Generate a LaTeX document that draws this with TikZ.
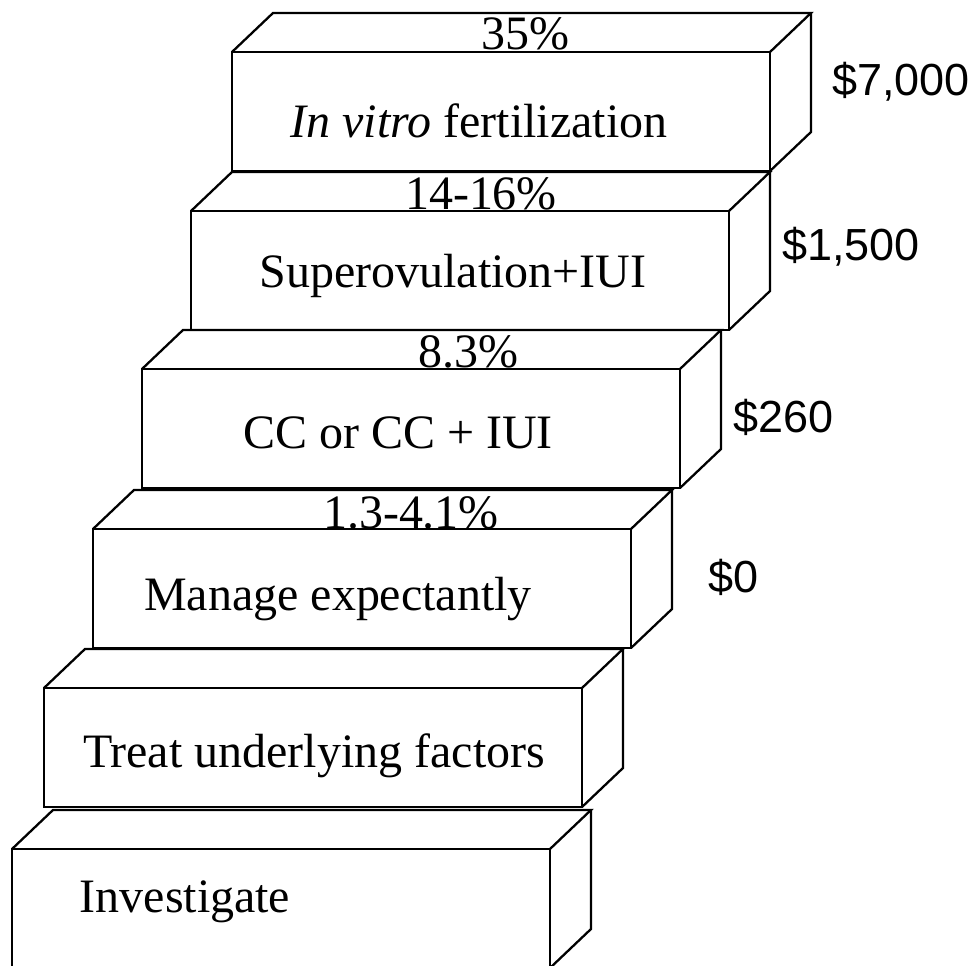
\documentclass[tikz,border=0pt]{standalone}
\usepackage{fontspec}
\setmainfont{Liberation Serif}
\newfontfamily\costfont{Liberation Sans}

\begin{document}
\begin{tikzpicture}[
    stepline/.style={line width=1.3pt},
    steptext/.style={anchor=base, inner sep=0pt, font=\fontsize{27.3}{32}\selectfont},
    costtext/.style={anchor=base west, inner sep=0pt, font=\costfont\fontsize{25.6}{30}\selectfont}
  ]
  \useasboundingbox (0,0) rectangle (19.6,19.3);
  \clip (0,0) rectangle (19.6,19.3);

  % Steps (front top left corner of each block)
  \foreach \n/\x/\y in {1/4.64/18.26, 2/3.82/15.08, 3/2.84/11.92, 4/1.86/8.72, 5/0.88/5.54, 6/0.24/2.32} {
    \coordinate (s\n) at (\x,\y);
    \draw[stepline] (s\n) rectangle ++(10.76,-2.38);
    \draw[stepline] (s\n) -- ++(0.82,0.78) -- ++(10.76,0) -- ++(-0.82,-0.78);
    \draw[stepline] (s\n) ++(11.58,0.78) -- ++(0,-2.38) -- ++(-0.82,-0.78);
  }

  % Step names
  \node[steptext] (ivf) at (9.58,16.54) {\textit{In vitro} fertilization};
  \node[steptext] (sup) at (9.06,13.54) {Superovulation+IUI};
  \node[steptext] (cc) at (7.96,10.34) {CC or CC + IUI};
  \node[steptext] (manage) at (6.76,7.10) {Manage expectantly};
  \node[steptext] (treat) at (6.28,3.96) {Treat underlying factors};
  \node[steptext] (invest) at (3.70,1.06) {Investigate};

  % Success rates
  \node[steptext] (rate1) at (10.50,18.30) {35\%};
  \node[steptext] (rate2) at (9.62,15.10) {14-16\%};
  \node[steptext] (rate3) at (9.36,11.94) {8.3\%};
  \node[steptext] (rate4) at (8.22,8.74) {1.3-4.1\%};

  % Costs
  \node[costtext] (cost1) at (16.64,17.38) {\$7,000};
  \node[costtext] (cost2) at (15.64,14.08) {\$1,500};
  \node[costtext] (cost3) at (14.66,10.64) {\$260};
  \node[costtext] (cost4) at (14.16,7.46) {\$0};
\end{tikzpicture}
\end{document}
